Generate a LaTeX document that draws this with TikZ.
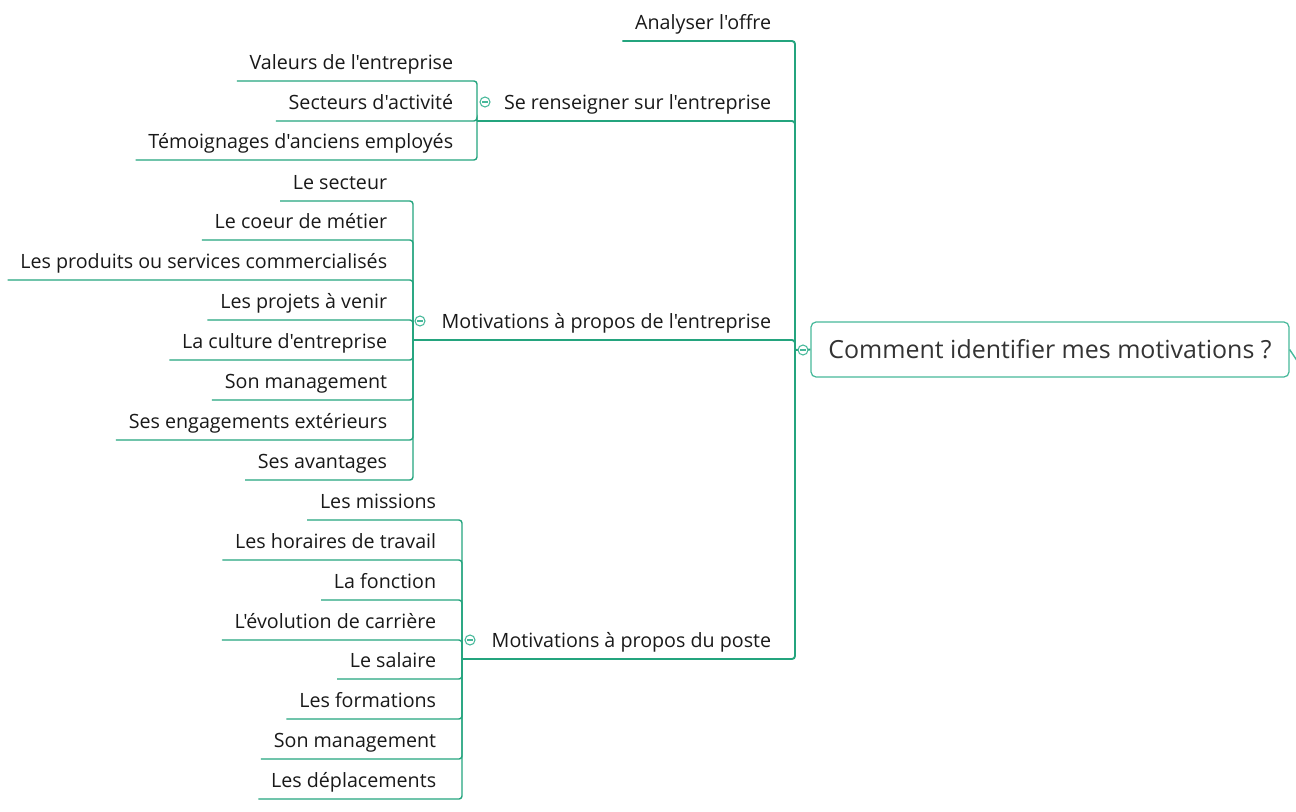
\documentclass[tikz,border=0pt]{standalone}
\usepackage{fontspec}
\setmainfont{Open Sans}[Ligatures=TeXOff]
\definecolor{mapgreen}{RGB}{36,164,126}
\definecolor{maplight}{RGB}{70,184,154}
\tikzset{
  topic/.style={anchor=south east, inner xsep=0.25cm, inner ysep=0.15cm,
    text height=0.29cm, text depth=0.08cm, text=black!90,
    font=\fontsize{11.2}{13}\selectfont},
  edge/.style={draw=mapgreen, line width=0.8pt, rounded corners=0.06cm},
  mainedge/.style={edge, line width=1.1pt},
  toggle/.style={circle, draw=maplight, fill=white, line width=0.6pt,
    minimum size=0.2cm, inner sep=0pt,
    path picture={\draw[maplight, line width=0.6pt]
      ([xshift=-0.06cm]path picture bounding box.center) --
      ([xshift=0.06cm]path picture bounding box.center);}},
  central/.style={draw=maplight, rounded corners=0.1cm, line width=0.7pt,
    minimum width=9.56cm, minimum height=1.1cm, text=black!80,
    font=\fontsize{14.2}{16}\selectfont}
}
\begin{document}
\begin{tikzpicture}[x=0.02cm, y=-0.02cm]
\useasboundingbox (0,0) rectangle (1296,812);

% central topic
\node[central] (root) at (1050,349.5) {Comment identifier mes motivations ?};
\coordinate (root-hub) at (795,350);
\coordinate (root-out) at (1298,362);

% first level
\node[topic] (offre) at (784,41) {Analyser l'offre};
\node[topic] (renseigner) at (784,121) {Se renseigner sur l'entreprise};
\node[topic] (entreprise) at (784,340) {Motivations à propos de l'entreprise};
\node[topic] (poste) at (784,659) {Motivations à propos du poste};
\coordinate (renseigner-hub) at (477,121);
\coordinate (entreprise-hub) at (413,340);
\coordinate (poste-hub) at (462,659);

% se renseigner
\node[topic] (valeurs) at (466,81) {Valeurs de l'entreprise};
\node[topic] (secteurs) at (466,121) {Secteurs d'activité};
\node[topic] (temoignages) at (466,160) {Témoignages d'anciens employés};

% motivations entreprise
\node[topic] (secteur) at (400,201) {Le secteur};
\node[topic] (coeur) at (400,240) {Le coeur de métier};
\node[topic] (produits) at (400,280) {Les produits ou services commercialisés};
\node[topic] (projets) at (400,320) {Les projets à venir};
\node[topic] (culture) at (400,360) {La culture d'entreprise};
\node[topic] (management-e) at (400,400) {Son management};
\node[topic] (engagements) at (400,440) {Ses engagements extérieurs};
\node[topic] (avantages) at (400,480) {Ses avantages};

% motivations poste
\node[topic] (missions) at (449,520) {Les missions};
\node[topic] (horaires) at (449,560) {Les horaires de travail};
\node[topic] (fonction) at (449,600) {La fonction};
\node[topic] (evolution) at (449,640) {L'évolution de carrière};
\node[topic] (salaire) at (449,679) {Le salaire};
\node[topic] (formations) at (449,719) {Les formations};
\node[topic] (management-p) at (449,759) {Son management};
\node[topic] (deplacements) at (449,799) {Les déplacements};

% connectors
\draw[mainedge] (root.west) -- (root-hub);
\draw[edge, draw=maplight] (root.east) -- (root-out);
\draw[mainedge] (offre.south west) -| (root-hub);
\draw[mainedge] (renseigner-hub) -| (root-hub);
\draw[mainedge] (entreprise-hub) -| (root-hub);
\draw[mainedge] (poste-hub) -| (root-hub);

\draw[edge] (valeurs.south west) -| (renseigner-hub);
\draw[edge] (secteurs.south west) -| (renseigner-hub);
\draw[edge] (temoignages.south west) -| (renseigner-hub);

\draw[edge] (secteur.south west) -| (entreprise-hub);
\draw[edge] (coeur.south west) -| (entreprise-hub);
\draw[edge] (produits.south west) -| (entreprise-hub);
\draw[edge] (projets.south west) -| (entreprise-hub);
\draw[edge] (culture.south west) -| (entreprise-hub);
\draw[edge] (management-e.south west) -| (entreprise-hub);
\draw[edge] (engagements.south west) -| (entreprise-hub);
\draw[edge] (avantages.south west) -| (entreprise-hub);

\draw[edge] (missions.south west) -| (poste-hub);
\draw[edge] (horaires.south west) -| (poste-hub);
\draw[edge] (fonction.south west) -| (poste-hub);
\draw[edge] (evolution.south west) -| (poste-hub);
\draw[edge] (salaire.south west) -| (poste-hub);
\draw[edge] (formations.south west) -| (poste-hub);
\draw[edge] (management-p.south west) -| (poste-hub);
\draw[edge] (deplacements.south west) -| (poste-hub);

% collapse markers
\node[toggle] (root-toggle) at (803,350) {};
\node[toggle] (renseigner-toggle) at (485,102) {};
\node[toggle] (entreprise-toggle) at (420,321) {};
\node[toggle] (poste-toggle) at (470,640) {};
\end{tikzpicture}
\end{document}
